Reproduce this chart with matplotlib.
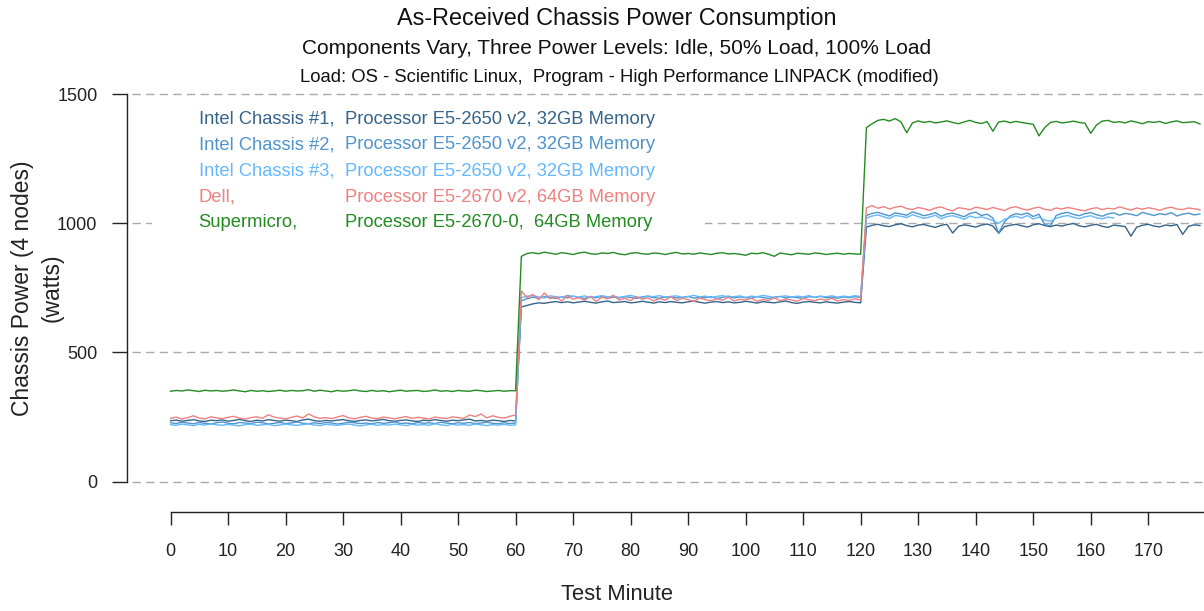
import numpy as np
import matplotlib
matplotlib.use("Agg")
import matplotlib.pyplot as plt

plt.rcParams['font.family'] = ['Liberation Sans', 'DejaVu Sans']
plt.rcParams['lines.scale_dashes'] = False

# ---------------- data (watts, one reading per test minute) ----------------
intel1_idle = [236,238,234,237,240,235,233,238,236,239,
               234,237,241,236,233,238,235,240,237,234,
               238,236,233,239,242,236,234,237,235,238,
               240,236,233,237,239,235,238,241,236,234,
               237,239,235,233,238,236,240,237,234,238,
               236,239,242,235,237,234,238,236,233,237,
               235]
intel1_half = [676,682,688,692,690,694,697,693,696,692,
               695,698,694,691,696,699,693,695,697,692,
               694,698,695,691,696,693,697,694,692,696,
               699,694,691,695,697,693,696,692,694,698,
               695,691,697,694,692,696,699,693,690,695,
               697,694,692,696,693,691,695,697,694,692]
intel1_full = [985,992,996,990,987,994,998,991,986,993,
               995,989,984,992,996,962,988,994,990,985,
               993,997,989,961,987,992,996,990,985,994,
               998,991,987,993,989,995,999,990,986,992,
               996,988,984,993,990,987,950,985,992,996,
               989,986,993,990,995,957,988,994,991]

intel2_idle = [228,225,230,227,224,229,226,223,228,231,
               226,224,229,227,225,230,228,223,226,229,
               225,227,231,226,224,228,225,229,227,223,
               226,230,228,225,227,224,229,226,228,231,
               225,227,224,229,226,228,225,230,227,224,
               228,226,229,225,227,230,226,224,228,225,
               227]
intel2_half = [700,708,714,710,716,712,709,715,711,718,
               713,709,715,712,717,710,714,711,716,713,
               709,715,718,712,710,714,716,711,713,717,
               710,714,712,716,709,713,718,711,715,712,
               710,716,713,709,714,717,711,715,712,710,
               716,713,718,711,714,710,715,712,716,713]
intel2_full = [1030,1038,1042,1035,1028,1040,1036,1031,1044,1037,
               1029,1034,1041,1027,1036,1039,1032,1025,1038,1043,
               1030,1035,1020,962,1005,1028,1037,1033,1040,1026,
               1035,995,990,1030,1038,1042,1034,1029,1037,1041,
               1033,1027,1036,1040,1031,1038,1035,1029,1042,1036,
               1030,1037,1033,1041,1028,1035,1039,1032,1036]

intel3_idle = [221,218,223,220,217,222,219,224,220,218,
               222,219,216,221,223,218,220,222,217,219,
               223,220,218,221,224,219,217,222,220,218,
               221,223,219,216,220,222,218,221,219,223,
               220,217,222,219,221,218,224,220,217,222,
               219,221,218,223,220,217,221,219,222,218,
               220]
intel3_half = [712,718,720,715,711,719,716,713,721,717,
               714,719,712,716,720,715,718,713,717,721,
               715,712,718,716,720,714,717,719,713,716,
               721,715,718,712,717,720,714,716,719,713,
               718,715,721,717,712,716,719,714,718,715,
               720,713,717,716,719,714,718,715,720,716]
intel3_full = [1020,1028,1032,1025,1018,1030,1027,1022,1033,1026,
               1019,1024,1031,1017,1026,1029,1023,1015,1028,1021,
               1025,1018,1010,1000,1015,1022,1027,1020,1030,1016,
               1024,1012,1008,1019,1026,1030,1023,1018,1025,1029,
               1021,1017,1024,1020]

dell_idle = [245,250,242,248,255,246,243,251,247,244,
             249,253,246,242,248,251,245,259,250,246,
             243,249,254,247,262,251,245,248,244,250,
             256,247,243,249,253,246,244,250,247,243,
             248,252,245,249,246,243,250,247,244,251,
             248,245,258,252,262,247,255,249,246,253,
             258]
dell_half = [738,712,725,704,730,708,716,699,720,706,
             712,702,718,697,714,708,721,703,710,700,
             716,706,712,699,708,703,715,701,709,705,
             697,711,704,700,708,702,714,699,706,703,
             710,698,705,701,712,700,707,703,698,709,
             704,700,707,702,710,699,705,701,708,703]
dell_full = [1060,1068,1058,1064,1055,1062,1066,1057,1053,1061,
             1056,1050,1059,1063,1054,1048,1060,1057,1052,1062,
             1058,1053,1061,1055,1049,1060,1064,1056,1051,1058,
             1062,1054,1050,1059,1055,1061,1057,1052,1048,1056,
             1060,1053,1058,1055,1063,1057,1051,1059,1054,1060,
             1056,1050,1058,1062,1055,1053,1059,1056,1052]

supermicro_idle = [350,353,351,355,352,349,354,351,353,350,
                   352,355,351,348,353,350,352,349,351,354,
                   350,353,351,352,356,350,354,351,348,353,
                   350,352,355,351,349,353,350,352,348,351,
                   354,350,352,353,349,351,355,350,352,349,
                   353,351,350,354,352,349,351,353,350,352,
                   352]
supermicro_half = [872,883,886,882,888,884,880,886,883,879,
                   885,888,882,880,885,883,887,881,878,884,
                   886,882,880,885,883,879,884,887,881,883,
                   880,885,882,879,884,886,881,883,880,876,
                   884,882,886,880,872,885,881,878,884,882,
                   880,885,883,879,882,884,880,883,881,880]
supermicro_full = [1370,1385,1398,1402,1395,1405,1392,1350,1388,1396,
                   1390,1394,1388,1392,1396,1390,1385,1392,1398,1390,
                   1386,1393,1356,1392,1395,1389,1394,1390,1386,1383,
                   1338,1370,1390,1394,1388,1391,1395,1390,1387,1348,
                   1380,1395,1398,1390,1393,1388,1396,1391,1385,1393,
                   1390,1394,1386,1392,1396,1389,1391,1393,1384]

series_names = ["Intel Chassis #1,", "Intel Chassis #2,", "Intel Chassis #3,",
                "Dell,", "Supermicro,"]
series_specs = ["Processor E5-2650 v2, 32GB Memory",
                "Processor E5-2650 v2, 32GB Memory",
                "Processor E5-2650 v2, 32GB Memory",
                "Processor E5-2670 v2, 64GB Memory",
                "Processor E5-2670-0,  64GB Memory"]
series_colors = ["#36648B", "#4F94CD", "#63B8FF", "#F08080", "#228B22"]
series_values = [intel1_idle + intel1_half + intel1_full,
                 intel2_idle + intel2_half + intel2_full,
                 intel3_idle + intel3_half + intel3_full,
                 dell_idle + dell_half + dell_full,
                 supermicro_idle + supermicro_half + supermicro_full]

x_ticks = list(range(0, 180, 10))
y_ticks = [0, 500, 1000, 1500]

# ---------------- figure ----------------
W, H = 1204, 611
fig = plt.figure(figsize=(W / 100, H / 100), dpi=100)
left_px, right_px, top_px, bot_px = 132, 1204, 78.5, 497.2
ax = fig.add_axes([left_px / W, 1 - bot_px / H,
                   (right_px - left_px) / W, (bot_px - top_px) / H])
ax.set_xlim(-6.7, 179.7)
ax.set_ylim(-60, 1560)

for s in ("top", "right"):
    ax.spines[s].set_visible(False)
ax.spines["left"].set_position(("outward", 3.6))
ax.spines["left"].set_bounds(0, 1500)
ax.spines["bottom"].set_position(("outward", 10.4))
ax.spines["bottom"].set_bounds(0, 179.7)
for s in ("left", "bottom"):
    ax.spines[s].set_linewidth(1.0)
    ax.spines[s].set_color("#222222")

ax.set_xticks(x_ticks)
ax.set_yticks(y_ticks)
ax.tick_params(axis="y", length=10.8, width=1.0, pad=10.5, labelsize=13,
               color="#222222", labelcolor="#222222")
ax.tick_params(axis="x", length=9.4, width=1.0, pad=13, labelsize=13,
               color="#222222", labelcolor="#222222")

for yv in y_ticks:
    ax.axhline(yv, color="#AAAAAA", lw=1.0, ls=(0, (6.0, 3.8)), zorder=1)

# white background behind the legend text
ax.add_patch(plt.Rectangle((-3.25, 935), 96.2, 540, facecolor="white",
                           edgecolor="none", zorder=1.5))

for vals, col in zip(series_values, series_colors):
    ax.plot(np.arange(len(vals)), vals, color=col, lw=1.0, zorder=3)

leg_y = [1403, 1303, 1202, 1101, 1001]
for name, spec, col, yy in zip(series_names, series_specs, series_colors, leg_y):
    ax.text(4.9, yy, name, color=col, fontsize=13.2, ha="left", va="center", zorder=4)
    ax.text(30.3, yy, spec, color=col, fontsize=13.2, ha="left", va="center", zorder=4)

fig.text(617 / W, 1 - 18 / H, "As-Received Chassis Power Consumption",
         ha="center", va="center", fontsize=16.8, color="#111111")
fig.text(617 / W, 1 - 48 / H, "Components Vary, Three Power Levels: Idle, 50% Load, 100% Load",
         ha="center", va="center", fontsize=15.0, color="#111111")
fig.text(619 / W, 1 - 77 / H,
         "Load: OS - Scientific Linux,  Program - High Performance LINPACK (modified)",
         ha="center", va="center", fontsize=13.3, color="#111111")
fig.text(22 / W, 1 - 288 / H, "Chassis Power (4 nodes)", rotation=90,
         ha="center", va="center", fontsize=16.5, color="#222222")
fig.text(52 / W, 1 - 288 / H, "(watts)", rotation=90,
         ha="center", va="center", fontsize=16.5, color="#222222")
fig.text(617 / W, 1 - 595 / H, "Test Minute", ha="center", va="center",
         fontsize=15.8, color="#222222")

fig.savefig("out.png", dpi=100)
